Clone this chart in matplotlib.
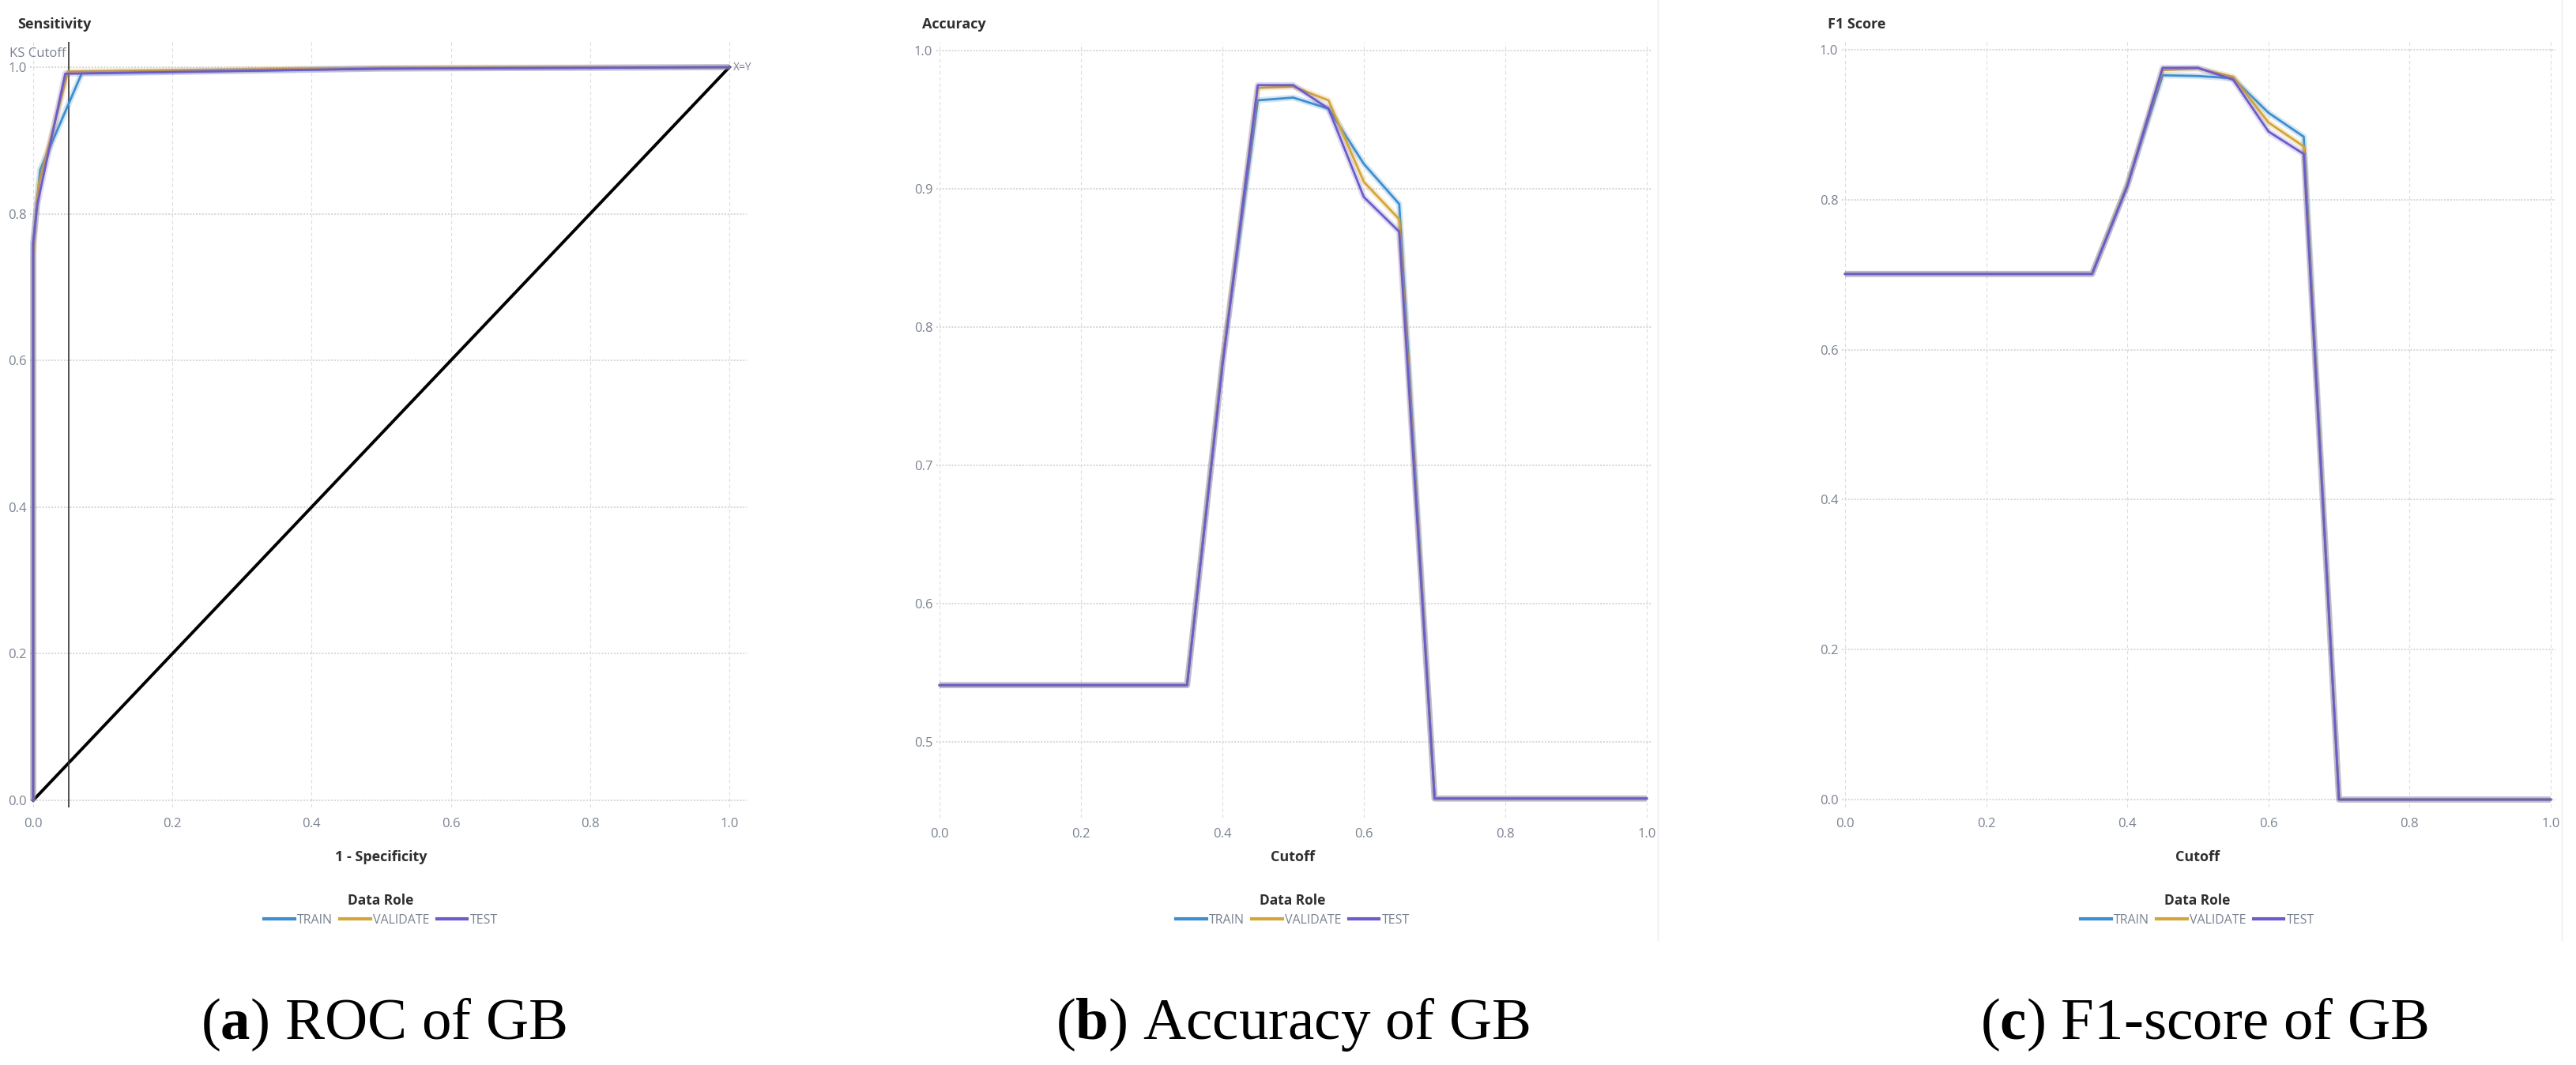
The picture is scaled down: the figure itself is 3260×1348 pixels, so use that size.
import matplotlib
matplotlib.use("Agg")
import matplotlib.pyplot as plt
from matplotlib import font_manager
from matplotlib.lines import Line2D

# ---- data ----
ROLES = ["TRAIN", "VALIDATE", "TEST"]

roc_fpr_train = [0.0, 0.0, 0.010, 0.070, 0.50, 1.0]
roc_tpr_train = [0.0, 0.76, 0.86, 0.992, 0.998, 1.0]
roc_fpr_validate = [0.0, 0.0, 0.004, 0.008, 0.050, 0.50, 1.0]
roc_tpr_validate = [0.0, 0.74, 0.80, 0.84, 0.994, 0.999, 1.0]
roc_fpr_test = [0.0, 0.0, 0.006, 0.046, 0.50, 1.0]
roc_tpr_test = [0.0, 0.76, 0.813, 0.991, 0.998, 1.0]
ks_cutoff = 0.051

cutoff = [0.0, 0.05, 0.10, 0.15, 0.20, 0.25, 0.30, 0.35, 0.40, 0.45, 0.50,
          0.55, 0.60, 0.65, 0.70, 0.75, 0.80, 0.85, 0.90, 0.95, 1.0]

acc_train = [0.541] * 8 + [0.775, 0.964, 0.966, 0.958, 0.918, 0.889] + [0.459] * 7
acc_validate = [0.541] * 8 + [0.775, 0.973, 0.974, 0.964, 0.905, 0.878] + [0.459] * 7
acc_test = [0.541] * 8 + [0.772, 0.975, 0.975, 0.958, 0.894, 0.869] + [0.459] * 7

f1_train = [0.701] * 8 + [0.820, 0.966, 0.965, 0.962, 0.916, 0.884] + [0.0] * 7
f1_validate = [0.701] * 8 + [0.820, 0.973, 0.975, 0.964, 0.903, 0.871] + [0.0] * 7
f1_test = [0.701] * 8 + [0.818, 0.976, 0.976, 0.960, 0.891, 0.861] + [0.0] * 7

captions = [("a", "ROC of GB"), ("b", "Accuracy of GB"), ("c", "F1-score of GB")]

COLORS = {"TRAIN": "#3C8ED0", "VALIDATE": "#D4A537", "TEST": "#6C5BC9"}
TICK_COLOR = "#7A8291"
LABEL_COLOR = "#2F2F2F"
GRID_COLOR = "#D6D6D6"

W, H = 3260, 1348
DPI = 100

installed = {f.name for f in font_manager.fontManager.ttflist}
UI_FONT = "Liberation Sans Narrow" if "Liberation Sans Narrow" in installed else "Open Sans"

plt.rcParams["font.family"] = [UI_FONT, "DejaVu Sans"]
plt.rcParams["mathtext.fontset"] = "custom"
plt.rcParams["mathtext.rm"] = "Liberation Serif"
plt.rcParams["mathtext.bf"] = "Liberation Serif:bold"

fig = plt.figure(figsize=(W / DPI, H / DPI), dpi=DPI)


def fx(px):
    return px / W


def fy(py):
    return 1 - py / H


def make_axes(px0, ppx, xlim, py0, ppy, ylim):
    left = px0 + xlim[0] * ppx
    right = px0 + xlim[1] * ppx
    bottom = py0 - ylim[0] * ppy
    top = py0 - ylim[1] * ppy
    ax = fig.add_axes([fx(left), fy(bottom), (right - left) / W, (bottom - top) / H])
    ax.set_xlim(xlim)
    ax.set_ylim(ylim)
    for s in ax.spines.values():
        s.set_visible(False)
    ax.tick_params(length=0, labelsize=12, labelcolor=TICK_COLOR, pad=3)
    ax.tick_params(axis="x", pad=9)
    ax.grid(axis="x", color="#DDDDDD", linestyle=(0, (4, 3)), linewidth=0.8)
    ax.grid(axis="y", color=GRID_COLOR, linestyle=(0, (1, 1)), linewidth=1.4)
    ax.set_axisbelow(True)
    return ax


def draw_line(ax, x, y, color):
    ax.plot(x, y, color=color, lw=5.5, alpha=0.22, solid_capstyle="butt")
    ax.plot(x, y, color=color, lw=2.0)


def decorate(ax, ylabel, ylabel_px, xlabel, center_px):
    fig.text(fx(ylabel_px[0]), fy(ylabel_px[1]), ylabel, fontsize=13,
             color=LABEL_COLOR, fontweight="bold", ha="left", va="center")
    fig.text(fx(center_px), fy(1085), xlabel, fontsize=13,
             color=LABEL_COLOR, fontweight="bold", ha="center", va="center")
    handles = [Line2D([], [], color=COLORS[r], lw=3) for r in ROLES]
    leg = fig.legend(handles, ROLES, loc="center", ncol=3, frameon=False,
                     bbox_to_anchor=(fx(center_px), fy(1152)),
                     fontsize=11.5, title="Data Role", handlelength=2.4,
                     handletextpad=0.2, columnspacing=0.6, labelcolor=TICK_COLOR)
    leg.get_title().set_fontsize(12.5)
    leg.get_title().set_fontweight("bold")
    leg.get_title().set_color(LABEL_COLOR)


ticks = [0.0, 0.2, 0.4, 0.6, 0.8, 1.0]

# (a) ROC
ax1 = make_axes(42, 881, (-0.005, 1.025), 1013, 928, (-0.01, 1.035))
ax1.set_xticks(ticks)
ax1.set_yticks(ticks)
ax1.set_xticklabels([f"{t:.1f}" for t in ticks])
ax1.set_yticklabels([f"{t:.1f}" for t in ticks])
ax1.plot([0, 1], [0, 1], color="black", lw=2.8)
ax1.axvline(ks_cutoff, color="#333333", lw=1.2)
ax1.text(ks_cutoff - 0.004, 1.018, "KS Cutoff", fontsize=12, color=TICK_COLOR,
         ha="right", va="center")
ax1.text(1.006, 1.0, "X=Y", fontsize=10, color=TICK_COLOR, ha="left", va="center")
draw_line(ax1, roc_fpr_train, roc_tpr_train, COLORS["TRAIN"])
draw_line(ax1, roc_fpr_validate, roc_tpr_validate, COLORS["VALIDATE"])
draw_line(ax1, roc_fpr_test, roc_tpr_test, COLORS["TEST"])
decorate(ax1, "Sensitivity", (22, 31), "1 - Specificity", 482)

# (b) Accuracy
ax2 = make_axes(1189, 895, (-0.005, 1.007), 1814, 1750, (0.445, 1.006))
ax2.set_xticks(ticks)
ax2.set_xticklabels([f"{t:.1f}" for t in ticks])
ax2.set_yticks([0.5, 0.6, 0.7, 0.8, 0.9, 1.0])
ax2.set_yticklabels(["0.5", "0.6", "0.7", "0.8", "0.9", "1.0"])
draw_line(ax2, cutoff, acc_train, COLORS["TRAIN"])
draw_line(ax2, cutoff, acc_validate, COLORS["VALIDATE"])
draw_line(ax2, cutoff, acc_test, COLORS["TEST"])
decorate(ax2, "Accuracy", (1167, 31), "Cutoff", 1636)

# (c) F1 score
ax3 = make_axes(2335, 893, (-0.005, 1.007), 1012, 949, (-0.011, 1.011))
ax3.set_xticks(ticks)
ax3.set_yticks(ticks)
ax3.set_xticklabels([f"{t:.1f}" for t in ticks])
ax3.set_yticklabels([f"{t:.1f}" for t in ticks])
draw_line(ax3, cutoff, f1_train, COLORS["TRAIN"])
draw_line(ax3, cutoff, f1_validate, COLORS["VALIDATE"])
draw_line(ax3, cutoff, f1_test, COLORS["TEST"])
decorate(ax3, "F1 Score", (2313, 31), "Cutoff", 2781)

# faint screenshot borders
for xb in (2098, 3242):
    fig.add_artist(Line2D([fx(xb), fx(xb)], [fy(0), fy(1190)], color="#EDEDED", lw=1))

# sub-captions
for (letter, text), cx in zip(captions, [485, 1636, 2789]):
    fig.text(fx(cx), fy(1297), rf"($\mathbf{{{letter}}}$) {text}", fontsize=54,
             family="Liberation Serif", ha="center", va="center", color="black")

fig.savefig("out.png", dpi=DPI)
